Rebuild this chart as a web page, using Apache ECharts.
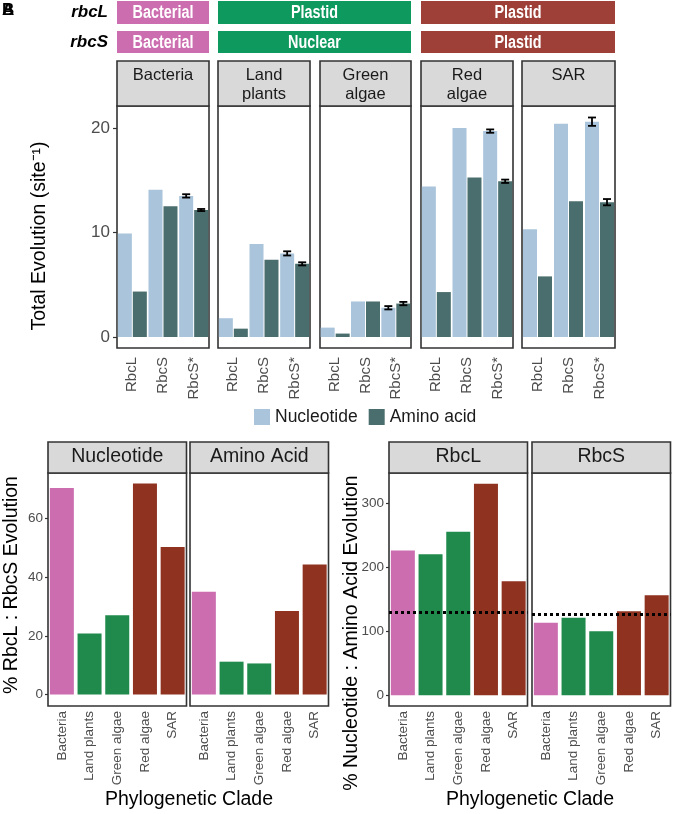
<!DOCTYPE html>
<html>
<head>
<meta charset="utf-8">
<script src="https://cdn.jsdelivr.net/npm/echarts@6/dist/echarts.min.js"></script>
<style>
html, body { margin: 0; padding: 0; background: #fff; }
#chart { width: 673px; height: 814px; }
</style>
</head>
<body>
<div id="chart"></div>
<script>
// ---- data ----
const clades = ['Bacteria', 'Land plants', 'Green algae', 'Red algae', 'SAR'];
const cladeStrips = ['Bacteria', 'Land\nplants', 'Green\nalgae', 'Red\nalgae', 'SAR'];
const genes = ['RbcL', 'RbcS', 'RbcS*'];

// total evolution (site^-1), per clade: [RbcL, RbcS, RbcS*]
const nucleotide = [
    [9.9, 14.1, 13.5],
    [1.8, 8.9, 8.0],
    [0.9, 3.4, 2.8],
    [14.4, 20.0, 19.7],
    [10.3, 20.4, 20.6]
];
const aminoAcid = [
    [4.35, 12.5, 12.15],
    [0.8, 7.4, 7.0],
    [0.33, 3.4, 3.2],
    [4.3, 15.25, 14.9],
    [5.8, 13.0, 12.9]
];
// error bars on RbcS* only
const nucleotideErr = [0.16, 0.2, 0.16, 0.16, 0.4];
const aminoAcidErr = [0.1, 0.15, 0.16, 0.16, 0.3];

// % RbcL : RbcS evolution
const ratioNucleotide = [70.4, 20.8, 27.0, 71.9, 50.3];
const ratioAminoAcid = [35.0, 11.2, 10.6, 28.5, 44.3];

// % Nucleotide : Amino acid evolution
const ntAaRbcL = [226, 220, 255, 330, 178];
const ntAaRbcS = [113, 121, 100, 131, 156];
const ntAaMean = [130, 127];

const topTicks = [0, 10, 20];
const ratioTicks = [0, 20, 40, 60];
const ntAaTicks = [0, 100, 200, 300];

const originRows = ['rbcL', 'rbcS'];
const originLabels = [
    ['Bacterial', 'Plastid', 'Plastid'],
    ['Bacterial', 'Nuclear', 'Plastid']
];

// ---- styles / layout ----
const FONT = '"Liberation Sans", Arial, sans-serif';
const nucColor = '#A9C4DB';
const aaColor = '#4A6E6D';
const cladeColors = ['#CC6DB0', '#1F8A4C', '#1F8A4C', '#8F3220', '#8F3220'];
const tagColors = ['#CC6DB0', '#0E9A5E', '#9E4038'];
const border = '#333333';

const topLefts = [117, 218, 320, 421, 522];
const topWidths = [92, 92, 91, 92, 93];
const topTop = 106, topHeight = 242, topStrip = 61;
const botLefts = [48, 190, 389, 532];
const botWidth = 138.5;
const botTop = 473, botHeight = 233, botStrip = 442;
const botStrips = ['Nucleotide', 'Amino Acid', 'RbcL', 'RbcS'];

const grids = [], xAxes = [], yAxes = [], series = [], graphics = [];

function renderErrorBar(params, api) {
    const x = api.coord([api.value(0), api.value(1)])[0] + api.value(3) * 7.5;
    const hi = api.coord([api.value(0), api.value(1) + api.value(2)])[1];
    const lo = api.coord([api.value(0), api.value(1) - api.value(2)])[1];
    const style = { stroke: '#000', lineWidth: 1.8 };
    return {
        type: 'group',
        children: [
            { type: 'line', shape: { x1: x, y1: hi, x2: x, y2: lo }, style: style },
            { type: 'line', shape: { x1: x - 4, y1: hi, x2: x + 4, y2: hi }, style: style },
            { type: 'line', shape: { x1: x - 4, y1: lo, x2: x + 4, y2: lo }, style: style }
        ]
    };
}

function stripBox(x, y, w, h, text, fontSize, lineTop) {
    graphics.push({
        type: 'rect', z: 10,
        shape: { x: x, y: y, width: w, height: h },
        style: { fill: '#D9D9D9', stroke: border, lineWidth: 1.6 }
    });
    graphics.push({
        type: 'text', z: 11, x: x + w / 2, y: lineTop,
        style: {
            text: text, fill: '#1A1A1A', font: fontSize + 'px ' + FONT,
            align: 'center', textAlign: 'center', verticalAlign: 'top', textVerticalAlign: 'top',
            lineHeight: 19
        }
    });
}

function axisTitle(text, x, y, rotate) {
    graphics.push({
        type: 'text', z: 11, x: x, y: y, rotation: rotate ? Math.PI / 2 : 0,
        style: {
            text: text, fill: '#000', font: '19.5px ' + FONT,
            align: 'center', textAlign: 'center', verticalAlign: 'middle', textVerticalAlign: 'middle'
        }
    });
}

// ---- top row: total evolution ----
clades.forEach(function (c, i) {
    grids.push({
        left: topLefts[i], top: topTop, width: topWidths[i], height: topHeight,
        show: true, borderColor: border, borderWidth: 1.6, outerBoundsMode: 'none'
    });
    xAxes.push({
        gridIndex: i, type: 'category', data: genes,
        axisLine: { show: false, onZero: false },
        axisTick: { alignWithLabel: true, length: 4, lineStyle: { color: border, width: 1.2 } },
        axisLabel: { rotate: 90, fontSize: 15, color: '#4D4D4D', margin: 9, fontFamily: FONT }
    });
    yAxes.push({
        gridIndex: i, type: 'value', min: -1.05, max: 22.1,
        splitLine: { show: false }, axisLine: { show: false },
        axisTick: { show: i === 0, length: 4, customValues: topTicks, lineStyle: { color: border, width: 1.2 } },
        axisLabel: { show: i === 0, customValues: topTicks, fontSize: 17, color: '#4D4D4D', margin: 7, fontFamily: FONT }
    });
    series.push({
        type: 'bar', name: 'Nucleotide', xAxisIndex: i, yAxisIndex: i,
        data: nucleotide[i], barWidth: 14, barGap: '7%',
        itemStyle: { color: nucColor }
    });
    series.push({
        type: 'bar', name: 'Amino acid', xAxisIndex: i, yAxisIndex: i,
        data: aminoAcid[i], barWidth: 14, barGap: '7%',
        itemStyle: { color: aaColor }
    });
    series.push({
        type: 'custom', xAxisIndex: i, yAxisIndex: i, z: 5, silent: true,
        renderItem: renderErrorBar, encode: { x: 0, y: 1 },
        data: [
            [2, nucleotide[i][2], nucleotideErr[i], -1],
            [2, aminoAcid[i][2], aminoAcidErr[i], 1]
        ]
    });
    stripBox(topLefts[i], topStrip, topWidths[i], topTop - topStrip, cladeStrips[i], 16.5, 66);
});

// ---- bottom row: ratios ----
const botData = [ratioNucleotide, ratioAminoAcid, ntAaRbcL, ntAaRbcS];
botData.forEach(function (values, j) {
    const g = 5 + j;
    const isRatio = j < 2;
    const ticks = isRatio ? ratioTicks : ntAaTicks;
    const first = j === 0 || j === 2;
    grids.push({
        left: botLefts[j], top: botTop, width: botWidth, height: botHeight,
        show: true, borderColor: border, borderWidth: 1.6, outerBoundsMode: 'none'
    });
    xAxes.push({
        gridIndex: g, type: 'category', data: clades,
        axisLine: { show: false, onZero: false },
        axisTick: { alignWithLabel: true, length: 3, lineStyle: { color: border, width: 1.2 } },
        axisLabel: { rotate: 90, fontSize: 13.5, color: '#4D4D4D', margin: 5, fontFamily: FONT }
    });
    yAxes.push({
        gridIndex: g, type: 'value',
        min: isRatio ? -3.9 : -16.7, max: isRatio ? 75.5 : 346.8,
        splitLine: { show: false }, axisLine: { show: false },
        axisTick: { show: first, length: 3, customValues: ticks, lineStyle: { color: border, width: 1.2 } },
        axisLabel: { show: first, customValues: ticks, fontSize: 13.5, color: '#4D4D4D', margin: 5, fontFamily: FONT }
    });
    const s = {
        type: 'bar', name: botStrips[j], xAxisIndex: g, yAxisIndex: g,
        data: values, barWidth: 24,
        itemStyle: { color: function (p) { return cladeColors[p.dataIndex]; } }
    };
    if (!isRatio) {
        s.markLine = {
            silent: true, symbol: 'none', label: { show: false },
            lineStyle: { color: '#000', width: 3, type: [3, 3] },
            data: [{ yAxis: ntAaMean[j - 2] }]
        };
    }
    series.push(s);
    stripBox(botLefts[j], botStrip, botWidth, botTop - botStrip, botStrips[j], 19.5, 447);
});

// ---- origin tags (rbcL / rbcS) ----
const tagSpans = [[117, 209], [218, 411], [421, 615]];
const tagRowsY = [[1, 23], [31, 22]];
originRows.forEach(function (gene, r) {
    graphics.push({
        type: 'text', z: 11, x: 108, y: tagRowsY[r][0] + tagRowsY[r][1] / 2,
        style: {
            text: gene, fill: '#000', font: 'italic bold 17px ' + FONT,
            align: 'right', textAlign: 'right', verticalAlign: 'middle', textVerticalAlign: 'middle'
        }
    });
    originLabels[r].forEach(function (lab, k) {
        graphics.push({
            type: 'rect', z: 10,
            shape: { x: tagSpans[k][0], y: tagRowsY[r][0], width: tagSpans[k][1] - tagSpans[k][0], height: tagRowsY[r][1] },
            style: { fill: tagColors[k] }
        });
        // narrow bold look: squeeze a regular bold face horizontally
        graphics.push({
            type: 'text', z: 11, scaleX: 0.8,
            x: (tagSpans[k][0] + tagSpans[k][1]) / 2, y: tagRowsY[r][0] + tagRowsY[r][1] / 2 + 1,
            style: {
                text: lab, fill: '#fff', font: 'bold 18px ' + FONT,
                align: 'center', textAlign: 'center', verticalAlign: 'middle', textVerticalAlign: 'middle'
            }
        });
    });
});

// panel letters (overlapping in the source)
['A', 'B'].forEach(function (l) {
    graphics.push({
        type: 'text', z: 11, x: 2, y: 2,
        style: { text: l, fill: '#000', font: 'bold 17px ' + FONT, verticalAlign: 'top', textVerticalAlign: 'top' }
    });
});

axisTitle('Total Evolution (site\u207B\u00B9)', 40, 236, true);
axisTitle('% RbcL : RbcS Evolution', 12, 585, true);
axisTitle('% Nucleotide : Amino Acid Evolution', 352, 633, true);
axisTitle('Phylogenetic Clade', 189, 800, false);
axisTitle('Phylogenetic Clade', 530, 800, false);

const options = {
    animation: false,
    backgroundColor: '#fff',
    legend: {
        data: ['Nucleotide', 'Amino acid'],
        left: 254, top: 408, padding: 0,
        itemWidth: 16, itemHeight: 16, itemGap: 11, icon: 'rect',
        selectedMode: false,
        textStyle: { fontSize: 17.5, color: '#1A1A1A', fontFamily: FONT }
    },
    grid: grids,
    xAxis: xAxes,
    yAxis: yAxes,
    series: series,
    graphic: { elements: graphics }
};

const E = echarts.init(document.getElementById('chart'));
E.setOption(options);
window.onresize = function () {
    E.resize();
};
</script>
</body>
</html>
